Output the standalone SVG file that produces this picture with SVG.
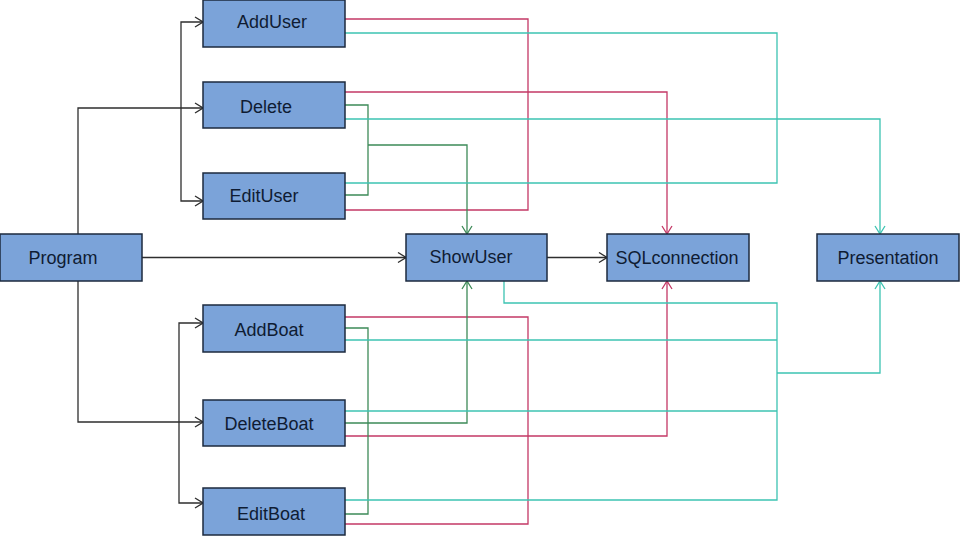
<svg xmlns="http://www.w3.org/2000/svg" width="960" height="536" viewBox="0 0 960 536">
<style>
.box{fill:#7ba3d9;stroke:#1c2a3e;stroke-width:1.5}
.lbl{font-family:"Liberation Sans",Arial,sans-serif;font-size:18px;fill:#0f1c33;text-anchor:middle}
.c{fill:none;stroke-width:1.3}
.k{stroke:#2e2e2e}
.r{stroke:#c43866}
.g{stroke:#3d8a58}
.t{stroke:#3cc3b2}
</style>
<defs>
<marker id="ak" markerWidth="10" markerHeight="12" refX="9" refY="6" orient="auto" markerUnits="userSpaceOnUse"><path d="M1,1 L9,6 L1,11" fill="none" stroke="#2e2e2e" stroke-width="1.3"/></marker>
<marker id="ar" markerWidth="10" markerHeight="12" refX="9" refY="6" orient="auto" markerUnits="userSpaceOnUse"><path d="M1,1 L9,6 L1,11" fill="none" stroke="#c43866" stroke-width="1.3"/></marker>
<marker id="ag" markerWidth="10" markerHeight="12" refX="9" refY="6" orient="auto" markerUnits="userSpaceOnUse"><path d="M1,1 L9,6 L1,11" fill="none" stroke="#3d8a58" stroke-width="1.3"/></marker>
<marker id="at" markerWidth="10" markerHeight="12" refX="9" refY="6" orient="auto" markerUnits="userSpaceOnUse"><path d="M1,1 L9,6 L1,11" fill="none" stroke="#3cc3b2" stroke-width="1.3"/></marker>
</defs>
<rect width="960" height="536" fill="#fff"/>
<g id="connectors">
<!-- black -->
<path class="c k" d="M78,234 V108 H203" marker-end="url(#ak)"/>
<path class="c k" d="M181,108 V22 H203" marker-end="url(#ak)"/>
<path class="c k" d="M181,108 V201 H203" marker-end="url(#ak)"/>
<path class="c k" d="M142,257.5 H406" marker-end="url(#ak)"/>
<path class="c k" d="M547,257.5 H607" marker-end="url(#ak)"/>
<path class="c k" d="M78,281 V422 H203" marker-end="url(#ak)"/>
<path class="c k" d="M179,422 V323 H203" marker-end="url(#ak)"/>
<path class="c k" d="M179,422 V503 H203" marker-end="url(#ak)"/>
<!-- red -->
<path class="c r" d="M345,19 H528 V210 H345"/>
<path class="c r" d="M345,92 H667 V234" marker-end="url(#ar)"/>
<path class="c r" d="M345,317 H528 V524 H345"/>
<path class="c r" d="M345,436 H667 V281" marker-end="url(#ar)"/>
<!-- green -->
<path class="c g" d="M345,105 H368 V195 H345"/>
<path class="c g" d="M368,145 H467 V234" marker-end="url(#ag)"/>
<path class="c g" d="M345,328 H368 V514 H345"/>
<path class="c g" d="M345,423 H467 V281" marker-end="url(#ag)"/>
<!-- teal -->
<path class="c t" d="M345,33 H777 V183 H345"/>
<path class="c t" d="M345,119 H880 V234" marker-end="url(#at)"/>
<path class="c t" d="M504,281 V303 H777 V500 H345"/>
<path class="c t" d="M345,340 H777"/>
<path class="c t" d="M345,411 H777"/>
<path class="c t" d="M777,373 H880 V281" marker-end="url(#at)"/>
</g>
<g id="AddUser"><rect class="box" x="203" y="0" width="142" height="47"/><text class="lbl" x="272" y="28">AddUser</text></g>
<g id="Delete"><rect class="box" x="203" y="82" width="142" height="46"/><text class="lbl" x="266" y="113">Delete</text></g>
<g id="EditUser"><rect class="box" x="203" y="173" width="142" height="46"/><text class="lbl" x="264" y="202">EditUser</text></g>
<g id="Program"><rect class="box" x="0" y="234" width="142" height="47"/><text class="lbl" x="63" y="264">Program</text></g>
<g id="ShowUser"><rect class="box" x="406" y="234" width="141" height="47"/><text class="lbl" x="471" y="263">ShowUser</text></g>
<g id="SQLconnection"><rect class="box" x="607" y="234" width="142" height="47"/><text class="lbl" x="677" y="264">SQLconnection</text></g>
<g id="Presentation"><rect class="box" x="817" y="234" width="142" height="47"/><text class="lbl" x="888" y="264">Presentation</text></g>
<g id="AddBoat"><rect class="box" x="203" y="305" width="142" height="47"/><text class="lbl" x="269" y="336">AddBoat</text></g>
<g id="DeleteBoat"><rect class="box" x="203" y="400" width="142" height="46"/><text class="lbl" x="269" y="430">DeleteBoat</text></g>
<g id="EditBoat"><rect class="box" x="203" y="488" width="142" height="47"/><text class="lbl" x="271" y="520">EditBoat</text></g>
</svg>
